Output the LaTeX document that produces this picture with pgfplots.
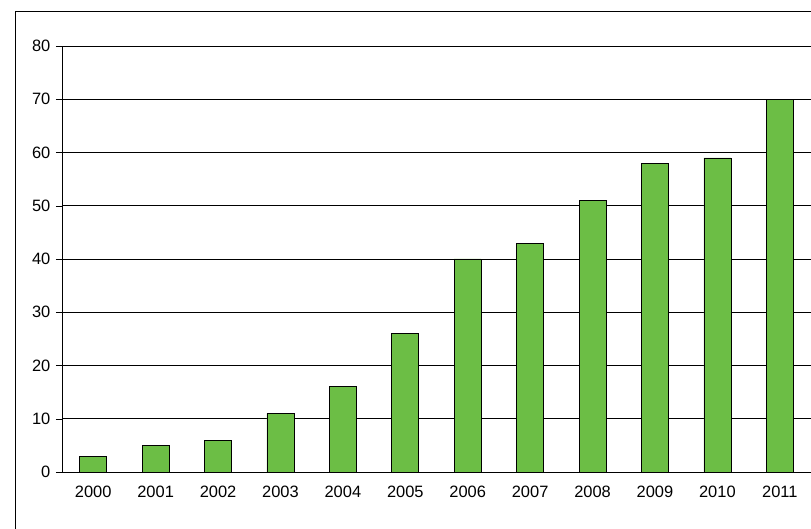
\documentclass[border=0pt]{standalone}
\usepackage{pgfplots}
\pgfplotsset{compat=1.18}
\usepackage{fontspec}
\setmainfont{Liberation Sans}
\begin{document}
\fontsize{16.5}{19}\selectfont
\begin{tikzpicture}[x=1bp,y=1bp]
\useasboundingbox (-62,-57) rectangle (749,472);
\begin{axis}[
  at={(0,0)}, anchor=south west,
  scale only axis, width=749bp, height=426bp,
  xmin=-0.5, xmax=11.5, ymin=0, ymax=80,
  ytick={0,10,...,80},
  xtick={0,...,11},
  xticklabels={2000,2001,2002,2003,2004,2005,2006,2007,2008,2009,2010,2011},
  major x tick style={draw=none},
  extra x ticks={-0.5,0.5,...,11.5},
  extra x tick labels={},
  extra x tick style={tick style={draw=black}, major tick length=6bp},
  tick align=outside, major tick length=6bp,
  tick style={black},
  ymajorgrids, grid style={black, line width=0.6pt},
  axis x line*=bottom, axis y line*=left,
  axis line style={black, line width=0.6pt},
  /pgf/number format/assume math mode=true,
  ticklabel style={font=\fontsize{16.5}{19}\selectfont},
  xticklabel style={yshift=-2bp},
]
\addplot[ybar, bar width=27bp, fill={rgb,255:red,108;green,190;blue,69}, draw=black, line width=0.6pt]
 coordinates {(0,3)(1,5)(2,6)(3,11)(4,16)(5,26)(6,40)(7,43)(8,51)(9,58)(10,59)(11,70)};
\end{axis}
\draw[black, line width=1pt] (-47,-57) -- (-47,460) -- (749,460);
\end{tikzpicture}
\end{document}
